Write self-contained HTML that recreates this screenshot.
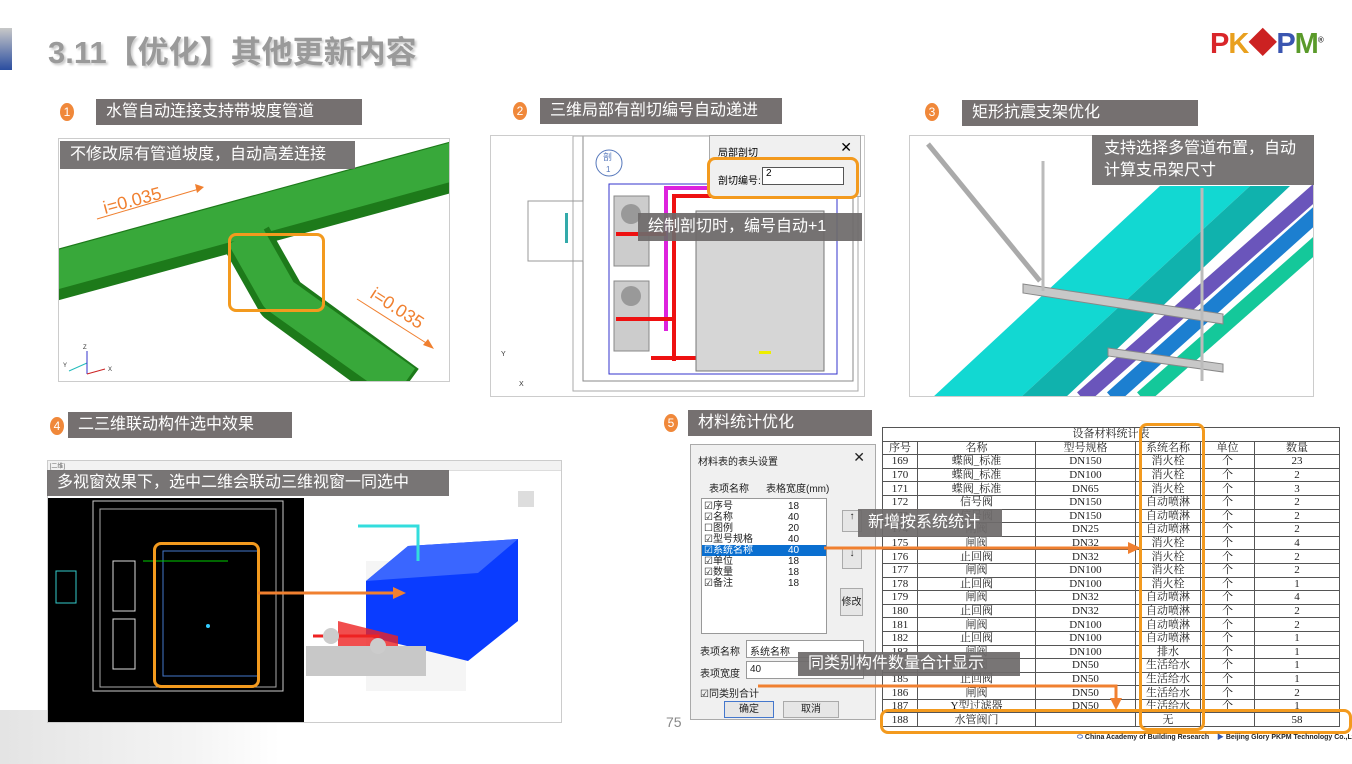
<!DOCTYPE html>
<html><head><meta charset="utf-8"><style>
*{margin:0;padding:0;box-sizing:border-box}
body{width:1352px;height:764px;background:#fff;position:relative;overflow:hidden;font-family:"Liberation Sans","Noto Sans CJK SC",sans-serif}
.a{position:absolute}
.lab{position:absolute;background:#757070;color:#fff;font-size:16px;line-height:26px;padding-left:10px;white-space:nowrap}
.num{position:absolute;width:14px;height:18px;border-radius:50%;background:#f0883a;color:#fff;font-size:12px;text-align:center;line-height:18px}
.cap{position:absolute;background:rgba(110,106,106,.93);color:#fff;font-size:16px;line-height:22px;padding:3px 10px;white-space:nowrap}
table{border-collapse:collapse;font-family:"Liberation Serif","Noto Serif CJK SC",serif;font-size:11px;color:#222}
td{border:1px solid #555;height:13.6px;line-height:12px;text-align:center;padding:0}
.ob{position:absolute;border:3px solid #f39a1e;border-radius:8px}
</style></head><body>
<div class="a" style="left:0;top:710px;width:280px;height:54px;background:linear-gradient(90deg,#ddd,#f2f2f2 70%,#fff);opacity:.8"></div>
<div class="a" style="left:0;top:28px;width:12px;height:42px;background:linear-gradient(#c8c8c8,#2a4da0)"></div>
<div class="a" style="left:48px;top:27px;font-size:31px;font-weight:bold;color:#9a9a9a;text-shadow:2px 2px 2px #ccc;white-space:nowrap">3.11【优化】其他更新内容</div>
<div class="a" style="left:1210px;top:20px;font-size:29px;font-weight:bold;letter-spacing:-1px;white-space:nowrap"><span style="color:#d9262a">P</span><span style="color:#e9a01e">K</span><span style="color:#c22">◆</span><span style="color:#3a55b0">P</span><span style="color:#5a9a2a">M</span><sup style="font-size:8px;color:#333">®</sup></div>

<div class="num" style="left:60px;top:103px">1</div><div class="lab" style="left:96px;top:99px;width:266px">水管自动连接支持带坡度管道</div>
<div class="num" style="left:513px;top:102px">2</div><div class="lab" style="left:540px;top:98px;width:242px">三维局部有剖切编号自动递进</div>
<div class="num" style="left:925px;top:103px">3</div><div class="lab" style="left:962px;top:100px;width:236px">矩形抗震支架优化</div>
<div class="num" style="left:50px;top:417px">4</div><div class="lab" style="left:68px;top:412px;width:224px">二三维联动构件选中效果</div>
<div class="num" style="left:664px;top:414px">5</div><div class="lab" style="left:688px;top:410px;width:184px">材料统计优化</div>

<!-- panel 1 -->
<div class="a" style="left:58px;top:138px;width:392px;height:244px;border:1px solid #ccc;overflow:hidden;background:#fff">
<svg width="392" height="244">
<path d="M-10 138 L400 26" stroke="#1d7a1a" stroke-width="50"/>
<path d="M-10 133 L400 21" stroke="#38a83a" stroke-width="38"/>
<path d="M188 100 L222 160 L345 250" stroke="#1d7a1a" stroke-width="50" fill="none" stroke-linejoin="round"/>
<path d="M186 96 L220 156 L345 245" stroke="#38a83a" stroke-width="38" fill="none" stroke-linejoin="round"/>
<line x1="38" y1="80" x2="140" y2="50" stroke="#f08030" stroke-width="1"/><polygon points="136,45 145,48 138,54" fill="#f08030"/>
<line x1="298" y1="160" x2="372" y2="207" stroke="#f08030" stroke-width="1"/><polygon points="364,206 375,210 369,200" fill="#f08030"/>
<text x="46" y="75" fill="#f08030" font-size="18" transform="rotate(-15 46 75)">i=0.035</text>
<text x="310" y="158" fill="#f08030" font-size="18" transform="rotate(33 310 158)">i=0.035</text>
<line x1="10" y1="232" x2="28" y2="224" stroke="#2bb"/><line x1="28" y1="235" x2="28" y2="212" stroke="#33c"/><line x1="28" y1="235" x2="46" y2="230" stroke="#c22"/>
<text x="24" y="210" font-size="6" fill="#333">Z</text><text x="4" y="228" font-size="6" fill="#333">Y</text><text x="49" y="232" font-size="6" fill="#333">X</text>
</svg></div>
<div class="ob" style="left:228px;top:233px;width:97px;height:79px"></div>
<div class="cap" style="left:60px;top:141px;width:295px;padding:3px 10px">不修改原有管道坡度，自动高差连接</div>

<!-- panel 2 -->
<div class="a" style="left:490px;top:135px;width:375px;height:262px;border:1px solid #ccc;overflow:hidden;background:#fff">
<svg width="375" height="262">
<rect x="92" y="0" width="270" height="245" fill="none" stroke="#888"/><rect x="82" y="0" width="285" height="255" fill="none" stroke="#aaa"/>
<rect x="118" y="48" width="228" height="190" fill="none" stroke="#33c"/>
<circle cx="118" cy="27" r="13" fill="#fff" stroke="#5577bb"/><text x="112" y="24" font-size="9" fill="#5577bb">剖</text><text x="115" y="36" font-size="8" fill="#5577bb">1</text>
<rect x="37" y="65" width="55" height="60" fill="none" stroke="#999"/><rect x="74" y="77" width="3" height="30" fill="#3aa"/>
<rect x="123" y="60" width="35" height="70" fill="#ccc" stroke="#888"/><rect x="123" y="145" width="35" height="70" fill="#ccc" stroke="#888"/>
<circle cx="140" cy="78" r="10" fill="#999"/><circle cx="140" cy="160" r="10" fill="#999"/>
<path d="M175 195 L175 52 L330 52" stroke="#d2d" stroke-width="4" fill="none"/>
<path d="M183 225 L183 60 L330 60" stroke="#e11" stroke-width="4" fill="none"/>
<path d="M125 98 L175 98 M125 183 L183 183 M160 222 L205 222" stroke="#e11" stroke-width="4"/>
<rect x="205" y="75" width="128" height="160" fill="#d6d6d6" stroke="#777"/>
<rect x="268" y="215" width="12" height="3" fill="#ee0"/>
<text x="10" y="220" font-size="7" fill="#333">Y</text><text x="28" y="250" font-size="7" fill="#333">X</text>
</svg></div>
<div class="a" style="left:709px;top:135px;width:152px;height:62px;background:#f0f0f0;border:1px solid #aaa;font-size:10px">
<div style="position:absolute;left:8px;top:8px">局部剖切</div><div style="position:absolute;right:8px;top:3px;font-size:14px">✕</div>
<div style="position:absolute;left:8px;top:36px">剖切编号:</div><div style="position:absolute;left:52px;top:31px;width:82px;height:18px;background:#fff;border:1px solid #555;padding-left:3px">2</div></div>
<div class="ob" style="left:707px;top:157px;width:152px;height:42px"></div>
<div class="cap" style="left:638px;top:213px;width:224px">绘制剖切时，编号自动+1</div>

<!-- panel 3 -->
<div class="a" style="left:909px;top:135px;width:405px;height:262px;border:1px solid #ccc;overflow:hidden;background:#fff">
<svg width="405" height="262">
<polygon points="22,262 110,262 340,50 250,50" fill="#12d8d2"/>
<polygon points="110,262 155,262 380,50 340,50" fill="#10b2ad"/>
<path d="M172 262 L410 52" stroke="#6a55bb" stroke-width="15"/>
<path d="M202 262 L410 75" stroke="#1c7fd0" stroke-width="15"/>
<path d="M232 262 L410 105" stroke="#14c89a" stroke-width="15"/>
<path d="M113 148 L313 178 L313 188 L113 157Z" fill="#c8c8c8" stroke="#888"/>
<path d="M198 212 L313 228 L313 236 L198 220Z" fill="#c8c8c8" stroke="#888"/>
<path d="M18 8 L130 145" stroke="#aaa" stroke-width="5"/>
<line x1="133" y1="25" x2="133" y2="155" stroke="#bbb" stroke-width="3"/>
<line x1="292" y1="52" x2="292" y2="245" stroke="#bbb" stroke-width="3"/>
</svg></div>
<div class="cap" style="left:1092px;top:135px;width:222px;white-space:normal;line-height:22px;padding:3px 12px">支持选择多管道布置，自动计算支吊架尺寸</div>

<!-- panel 4 -->
<div class="a" style="left:47px;top:460px;width:515px;height:263px;border:1px solid #ccc;background:#fff;overflow:hidden">
<div style="position:absolute;left:0;top:0;width:515px;height:10px;background:#f2f2f2;border-bottom:1px solid #ddd;font-size:6px;color:#666">&nbsp;[二维]</div>
<svg width="515" height="263" style="position:absolute;left:0;top:0">
<rect x="0" y="37" width="256" height="226" fill="#000"/>
<rect x="45" y="40" width="190" height="190" fill="none" stroke="#ccc"/><rect x="52" y="48" width="176" height="178" fill="none" stroke="#aaa"/>
<rect x="8" y="110" width="20" height="32" fill="none" stroke="#3cc"/>
<rect x="65" y="100" width="22" height="50" fill="none" stroke="#ddd"/><rect x="65" y="158" width="22" height="50" fill="none" stroke="#ddd"/>
<rect x="115" y="90" width="95" height="125" fill="none" stroke="#4477cc"/>
<path d="M95 100 L180 100" stroke="#0c0"/><circle cx="160" cy="165" r="2" fill="#3cf"/>
<rect x="318" y="100" width="100" height="130" fill="#eee" opacity=".6"/>
<polygon points="318,120 360,85 470,78 470,160 420,200 318,175" fill="#0a3cff"/>
<polygon points="318,120 360,85 470,78 430,112" fill="#3a66ff"/>
<polygon points="290,160 350,175 350,200 290,195" fill="#e22" opacity=".8"/>
<path d="M265 175 L330 175 L330 210" stroke="#e22" stroke-width="3" fill="none"/>
<path d="M310 65 L370 65 L370 100" stroke="#3dd" stroke-width="3" fill="none"/>
<rect x="258" y="185" width="120" height="30" fill="#c8c8c8"/>
<circle cx="283" cy="175" r="8" fill="#ccc"/><circle cx="330" cy="185" r="8" fill="#ccc"/>
<rect x="470" y="30" width="16" height="16" fill="#ddd"/>
</svg></div>
<div class="ob" style="left:153px;top:542px;width:107px;height:146px"></div>
<svg class="a" style="left:258px;top:585px" width="150" height="20"><line x1="0" y1="8" x2="138" y2="8" stroke="#f08030" stroke-width="3"/><polygon points="135,2 148,8 135,14" fill="#f08030"/></svg>
<div class="cap" style="left:47px;top:470px;width:402px;padding:2px 10px">多视窗效果下，选中二维会联动三维视窗一同选中</div>

<div class="a" style="left:666px;top:714px;font-size:14px;color:#888">75</div>

<!-- panel 5 dialog -->
<div class="a" style="left:690px;top:444px;width:186px;height:276px;background:#f0f0f0;border:1px solid #aaa;font-size:10px;color:#222">
<div style="position:absolute;left:7px;top:8px">材料表的表头设置</div><div style="position:absolute;right:10px;top:4px;font-size:14px">✕</div>
<div style="position:absolute;left:18px;top:35px">表项名称</div><div style="position:absolute;left:75px;top:35px">表格宽度(mm)</div>
<div style="position:absolute;left:10px;top:53px;width:126px;height:136px;background:#fff;border:1px solid #999;line-height:11px;font-size:10px">
<div style="padding:2px 2px 0">☑序号<span style="position:absolute;left:86px">18</span><br>☑名称<span style="position:absolute;left:86px">40</span><br>☐图例<span style="position:absolute;left:86px">20</span><br>☑型号规格<span style="position:absolute;left:86px">40</span><br><span style="display:block;background:#0a6fd0;color:#fff;margin:0 -2px;padding-left:2px">☑系统名称<span style="position:absolute;left:86px">40</span></span>☑单位<span style="position:absolute;left:86px">18</span><br>☑数量<span style="position:absolute;left:86px">18</span><br>☑备注<span style="position:absolute;left:86px">18</span></div></div>
<div style="position:absolute;left:151px;top:65px;width:20px;height:22px;border:1px solid #aaa;background:#e6e6e6;text-align:center">↑</div>
<div style="position:absolute;left:151px;top:102px;width:20px;height:22px;border:1px solid #aaa;background:#e6e6e6;text-align:center">↓</div>
<div style="position:absolute;left:149px;top:143px;width:23px;height:28px;border:1px solid #aaa;background:#e6e6e6;text-align:center;line-height:28px">修改</div>
<div style="position:absolute;left:9px;top:198px">表项名称</div><div style="position:absolute;left:55px;top:195px;width:118px;height:18px;background:#fff;border:1px solid #999;padding:2px 3px">系统名称</div>
<div style="position:absolute;left:9px;top:220px">表项宽度</div><div style="position:absolute;left:55px;top:216px;width:118px;height:18px;background:#fff;border:1px solid #999;padding:2px 3px">40</div>
<div style="position:absolute;left:9px;top:240px">☑同类别合计</div>
<div style="position:absolute;left:33px;top:256px;width:50px;height:17px;border:1px solid #4477cc;background:#e6e6e6;text-align:center;line-height:15px">确定</div>
<div style="position:absolute;left:92px;top:256px;width:56px;height:17px;border:1px solid #aaa;background:#e6e6e6;text-align:center;line-height:15px">取消</div>
</div>

<!-- table -->
<div class="a" style="left:882px;top:427px">
<table style="width:458px">
<tr><td colspan="6" style="border-bottom:1px solid #555">设备材料统计表</td></tr>
<tr><td style="width:35px">序号</td><td style="width:118px">名称</td><td style="width:100px">型号规格</td><td style="width:65px">系统名称</td><td style="width:54px">单位</td><td>数量</td></tr>
<tr><td>169</td><td>蝶阀_标准</td><td>DN150</td><td>消火栓</td><td>个</td><td>23</td></tr>
<tr><td>170</td><td>蝶阀_标准</td><td>DN100</td><td>消火栓</td><td>个</td><td>2</td></tr>
<tr><td>171</td><td>蝶阀_标准</td><td>DN65</td><td>消火栓</td><td>个</td><td>3</td></tr>
<tr><td>172</td><td>信号阀</td><td>DN150</td><td>自动喷淋</td><td>个</td><td>2</td></tr>
<tr><td>173</td><td>信号阀</td><td>DN150</td><td>自动喷淋</td><td>个</td><td>2</td></tr>
<tr><td>174</td><td>闸阀</td><td>DN25</td><td>自动喷淋</td><td>个</td><td>2</td></tr>
<tr><td>175</td><td>闸阀</td><td>DN32</td><td>消火栓</td><td>个</td><td>4</td></tr>
<tr><td>176</td><td>止回阀</td><td>DN32</td><td>消火栓</td><td>个</td><td>2</td></tr>
<tr><td>177</td><td>闸阀</td><td>DN100</td><td>消火栓</td><td>个</td><td>2</td></tr>
<tr><td>178</td><td>止回阀</td><td>DN100</td><td>消火栓</td><td>个</td><td>1</td></tr>
<tr><td>179</td><td>闸阀</td><td>DN32</td><td>自动喷淋</td><td>个</td><td>4</td></tr>
<tr><td>180</td><td>止回阀</td><td>DN32</td><td>自动喷淋</td><td>个</td><td>2</td></tr>
<tr><td>181</td><td>闸阀</td><td>DN100</td><td>自动喷淋</td><td>个</td><td>2</td></tr>
<tr><td>182</td><td>止回阀</td><td>DN100</td><td>自动喷淋</td><td>个</td><td>1</td></tr>
<tr><td>183</td><td>闸阀</td><td>DN100</td><td>排水</td><td>个</td><td>1</td></tr>
<tr><td>184</td><td>闸阀</td><td>DN50</td><td>生活给水</td><td>个</td><td>1</td></tr>
<tr><td>185</td><td>止回阀</td><td>DN50</td><td>生活给水</td><td>个</td><td>1</td></tr>
<tr><td>186</td><td>闸阀</td><td>DN50</td><td>生活给水</td><td>个</td><td>2</td></tr>
<tr><td>187</td><td>Y型过滤器</td><td>DN50</td><td>生活给水</td><td>个</td><td>1</td></tr>
<tr><td>188</td><td>水管阀门</td><td></td><td>无</td><td></td><td>58</td></tr>
</table></div>
<div class="ob" style="left:1139px;top:423px;width:66px;height:308px"></div>
<div class="ob" style="left:880px;top:709px;width:472px;height:25px"></div>

<svg class="a" style="left:0;top:0" width="1352" height="764">
<line x1="824" y1="548" x2="1130" y2="548" stroke="#f08030" stroke-width="3"/><polygon points="1128,542 1141,548 1128,554" fill="#f08030"/>
<path d="M758 686 L1116 686 L1116 700" stroke="#f08030" stroke-width="3" fill="none"/><polygon points="1110,698 1116,710 1122,698" fill="#f08030"/>
</svg>
<div class="cap" style="left:858px;top:509px;width:144px;font-size:16px">新增按系统统计</div>
<div class="cap" style="left:798px;top:652px;width:222px;font-size:16px;padding:1px 10px">同类别构件数量合计显示</div>

<div class="a" style="left:1077px;top:732px;font-size:7px;font-weight:bold;color:#222;white-space:nowrap"><span style="color:#3355aa">⬭</span> China Academy of Building Research &nbsp;&nbsp;&nbsp;<span style="color:#3355aa">▶</span> Beijing Glory PKPM Technology Co.,Ltd.</div>
</body></html>
